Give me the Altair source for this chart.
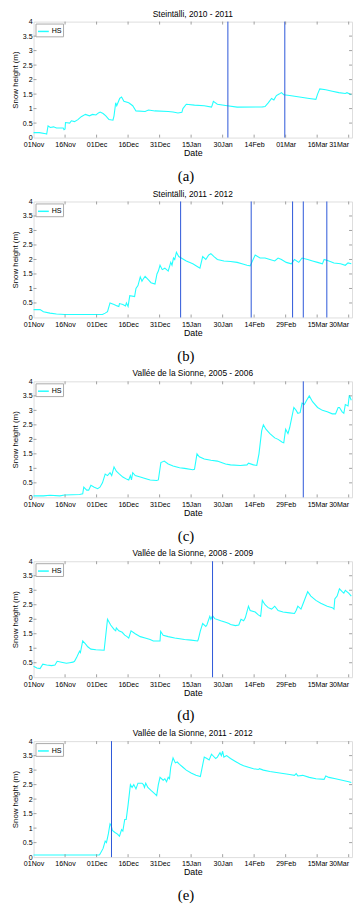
import altair as alt
import pandas as pd

FONT = "Liberation Sans"

TICK_DAYS = [0, 15, 30, 45, 60, 75, 90, 105, 120, 135, 150]
LABELS_A = ["01Nov", "16Nov", "01Dec", "16Dec", "31Dec", "15Jan", "30Jan", "14Feb", "01Mar", "16Mar", "31Mar"]
LABELS_B = ["01Nov", "16Nov", "01Dec", "16Dec", "31Dec", "15Jan", "30Jan", "14Feb", "29Feb", "15Mar", "30Mar"]
Y_TICKS = [0.5, 1, 1.5, 2, 2.5, 3, 3.5]
Y_LABELS = [0, 0.5, 1, 1.5, 2, 2.5, 3, 3.5, 4]

TITLES = ["Steintälli, 2010 - 2011", "Steintälli, 2011 - 2012", "Vallée de la Sionne, 2005 - 2006",
          "Vallée de la Sionne, 2008 - 2009", "Vallée de la Sionne, 2011 - 2012"]
CAPTIONS = ["(a)", "(b)", "(c)", "(d)", "(e)"]

A_DAYS = [0, 2.8, 5.8, 6.25, 6.6, 6.9, 8, 9.5, 10.9, 14.1, 14.5, 15, 15.2, 17.2, 18, 19.5, 21.1, 22.7, 24.7, 26.6,
          28.1, 29.7, 30.9, 31.7, 33.1, 34.4, 35.9, 37.8, 38.3, 39.1, 39.6, 41, 41.9, 43, 45.3, 47.2, 48.75, 53.1,
          54.7, 57.8, 64.1, 66.4, 68.75, 70.6, 71.1, 72.7, 76.6, 81.25, 84.7, 85.2, 85.6, 87.5, 92.2, 96.9, 109,
          110.2, 111.7, 113.3, 114.4, 115.6, 116.9, 118, 119.1, 121.9, 126.6, 131.25, 134.4, 135.2, 136.25, 139.1,
          142.2, 145.3, 148.4, 149.2, 151.25]
A_HS = [0.17, 0.17, 0.13, 0.12, 0.28, 0.4, 0.35, 0.37, 0.33, 0.33, 0.27, 0.3, 0.52, 0.5, 0.58, 0.55, 0.62, 0.72, 0.8,
        0.75, 0.8, 0.78, 0.85, 0.88, 0.83, 0.75, 0.62, 0.6, 0.75, 1.2, 1.1, 1.35, 1.4, 1.25, 1.2, 1.1, 0.92, 0.9,
        0.95, 0.92, 0.9, 0.88, 0.85, 0.87, 1.0, 1.15, 1.12, 1.1, 1.05, 1.15, 1.25, 1.15, 1.1, 1.05, 1.06, 1.07,
        1.2, 1.35, 1.3, 1.45, 1.5, 1.55, 1.48, 1.45, 1.4, 1.35, 1.32, 1.5, 1.68, 1.65, 1.6, 1.55, 1.52, 1.55, 1.48]
A_EVENTS = [92.5, 119.6]

B_DAYS = [0, 3.1, 4.7, 7.8, 10.9, 14.8, 32.8, 34.1, 35.2, 36.4, 38.3, 39.8, 40.6, 40.9, 42.5, 43.75, 44.2, 45, 45.8,
          48.1, 48.75, 49.7, 50.8, 51.6, 52, 53.1, 54.7, 55.9, 57.8, 58.75, 59.4, 60.2, 61.25, 62.5, 64.1, 65.3,
          65.9, 66.6, 67.2, 68, 69.1, 70.3, 72.7, 75.8, 78.1, 79.2, 80.5, 82, 83.3, 84.4, 85.9, 87.5, 90.6, 93.75,
          96.9, 99.2, 101.6, 103.1, 105.5, 107.8, 110.2, 112.5, 114.8, 116.4, 118, 120.3, 122.7, 124.2, 126.25,
          127.8, 130.5, 132.8, 135.2, 137.5, 138.3, 140.6, 143, 146.1, 148.4, 149.7, 151.25]
B_HS = [0.27, 0.27, 0.2, 0.15, 0.12, 0.1, 0.1, 0.15, 0.2, 0.5, 0.45, 0.4, 0.38, 0.48, 0.45, 0.4, 0.5, 0.38, 0.75,
        0.72, 1.0, 1.1, 1.4, 1.25, 1.3, 1.42, 1.3, 1.2, 1.15, 1.5, 1.6, 1.8, 1.65, 1.7, 1.6, 1.9, 1.8, 2.05, 2.0,
        2.25, 2.1, 2.05, 1.95, 1.85, 1.75, 1.7, 2.1, 2.0, 2.15, 2.2, 2.1, 2.0, 1.95, 1.93, 1.9, 1.85, 1.8, 1.78,
        2.15, 2.05, 2.05, 2.0, 1.95, 2.05, 2.0, 1.9, 1.85, 2.0, 1.9, 2.05, 2.0, 1.95, 1.9, 1.85, 2.0, 1.95, 1.88,
        1.85, 1.8, 1.88, 1.85]
B_EVENTS = [70.0, 103.6, 123.3, 128.4, 139.6]

C_DAYS = [0, 4.7, 7.8, 12.5, 14.8, 21.9, 23.4, 23.9, 25.3, 26.25, 27.3, 28.9, 30.5, 31.6, 32.8, 34.1, 35.2, 36.4,
          37.2, 38.3, 39.4, 40.9, 42.5, 44.5, 45.3, 46.1, 46.6, 47.2, 48.4, 50.8, 53.1, 55.5, 58.6, 59.4, 60.6,
          62.2, 64.1, 66.4, 69.5, 71.9, 75.8, 76.6, 77.8, 78.9, 81.25, 84.4, 87.5, 88.75, 91.4, 93.75, 98.4, 101.6,
          102.3, 104.7, 106.25, 107.3, 108.6, 109.4, 110.6, 112.5, 114.8, 116.4, 118.4, 119.1, 120, 121.1, 121.9,
          123.9, 125, 125.8, 126.9, 127.8, 128.9, 130, 131.25, 132.8, 135.2, 137.5, 139.8, 142.2, 143.75, 145,
          145.6, 146.9, 147.7, 148.4, 149.7, 150.3, 151.25]
C_HS = [0.05, 0.05, 0.07, 0.05, 0.08, 0.1, 0.12, 0.35, 0.25, 0.25, 0.42, 0.35, 0.3, 0.35, 0.5, 0.8, 0.75, 0.85, 0.75,
        1.05, 0.9, 0.8, 0.7, 0.62, 0.6, 0.75, 0.6, 0.85, 0.75, 0.7, 0.65, 0.6, 0.58, 0.6, 1.2, 1.25, 1.15, 1.08,
        1.02, 1.0, 0.95, 0.97, 1.5, 1.4, 1.32, 1.28, 1.25, 1.22, 1.15, 1.12, 1.1, 1.12, 1.18, 1.12, 1.1, 1.5, 2.3,
        2.5, 2.35, 2.2, 2.05, 2.0, 1.9, 1.88, 2.35, 2.2, 2.4, 3.1, 3.0, 2.9, 2.92, 3.25, 3.2, 3.35, 3.5, 3.3, 3.1,
        3.0, 2.95, 2.88, 2.88, 3.1, 3.1, 2.95, 2.9, 3.2, 3.15, 3.52, 3.35]
C_EVENTS = [128.4]

D_DAYS = [0, 1.56, 3.1, 4.4, 6.25, 8.6, 10.2, 11.25, 13.3, 15.6, 17.2, 18.75, 19.5, 20.6, 21.9, 22.3, 23.4, 24.7,
          25.8, 27.3, 29.7, 33.6, 35.2, 36.7, 38.3, 39.1, 39.4, 40.6, 42.2, 43.4, 44.5, 45.3, 46.4, 48.4, 50.8,
          53.1, 55.5, 57, 60.2, 60.5, 61.7, 64.1, 67.2, 71.9, 75, 78.1, 78.4, 79.4, 80.5, 82, 82.5, 83.9, 84.4,
          85.2, 86.25, 89.1, 91.4, 93, 93.75, 96.1, 97.7, 98.75, 100, 100.8, 102.3, 103.1, 105.5, 107, 108.1,
          108.9, 110.2, 111.7, 113.3, 114.1, 114.8, 116.4, 118.75, 121.9, 124.2, 125, 125.8, 127.3, 128.1, 129.7,
          130.5, 132, 134.4, 136.7, 139.8, 142.2, 143, 143.4, 144.5, 145.6, 146.9, 147.7, 148.4, 150, 151.25]
D_HS = [0.38, 0.32, 0.3, 0.45, 0.42, 0.4, 0.42, 0.55, 0.52, 0.48, 0.5, 0.52, 0.55, 0.7, 0.9, 0.85, 1.25, 1.15, 1.05,
        0.97, 0.95, 0.93, 2.0, 1.8, 1.65, 1.6, 1.7, 1.6, 1.55, 1.45, 1.4, 1.35, 1.6, 1.5, 1.4, 1.35, 1.3, 1.25,
        1.25, 1.58, 1.45, 1.4, 1.35, 1.3, 1.28, 1.25, 1.3, 1.6, 1.85, 1.75, 1.8, 2.1, 2.0, 2.12, 2.02, 1.95, 1.9,
        1.85, 1.82, 1.78, 1.8, 2.0, 1.95, 2.05, 2.45, 2.3, 2.25, 2.15, 2.1, 2.65, 2.5, 2.4, 2.35, 2.4, 2.45, 2.3,
        2.25, 2.22, 2.2, 2.3, 2.45, 2.35, 2.5, 2.8, 2.95, 2.8, 2.65, 2.55, 2.45, 2.4, 2.35, 2.7, 2.8, 3.05, 2.95,
        2.9, 3.0, 2.9, 2.8]
D_EVENTS = [85.2]

E_DAYS = [0, 31.25, 31.6, 33.1, 34.1, 34.7, 35.6, 36.4, 36.9, 37.5, 38.75, 39.8, 40.9, 41.9, 42.5, 43.4, 44.1, 45,
          46.1, 46.9, 47.7, 48.75, 49.7, 51.6, 52.3, 52.8, 53.4, 54.4, 55.9, 57.5, 58.6, 59.4, 60.2, 61.7, 62.5,
          63.3, 64.1, 64.7, 65.3, 66.4, 67.5, 68.4, 69.5, 71.1, 72.7, 75, 77.3, 79.4, 81.25, 82.5, 83.6, 84.7, 86.7,
          87.5, 88.75, 89.4, 90, 90.6, 91.9, 93.75, 96.1, 98.4, 100, 102.3, 104.7, 107, 107.5, 109.4, 112.5, 117.2,
          121.9, 124.2, 125, 125.8, 128.1, 131.25, 134.4, 138.3, 139.1, 140.6, 143.75, 146.9, 150, 151.25]
E_HS = [0.07, 0.07, 0.1, 0.3, 0.55, 0.5, 0.8, 1.15, 1.1, 0.92, 0.85, 0.8, 0.72, 0.95, 0.9, 1.3, 1.3, 1.8, 2.5, 2.4,
        2.5, 2.35, 2.55, 2.55, 2.5, 2.4, 2.55, 2.4, 2.3, 2.2, 2.12, 2.5, 2.75, 2.65, 2.7, 2.6, 2.75, 2.7, 3.1, 3.42,
        3.25, 3.28, 3.2, 3.1, 3.0, 2.9, 2.82, 2.78, 3.45, 3.4, 3.35, 3.55, 3.4, 3.45, 3.6, 3.5, 3.65, 3.45, 3.5,
        3.4, 3.3, 3.2, 3.15, 3.1, 3.05, 3.02, 3.05, 3.0, 2.95, 2.9, 2.85, 2.82, 2.88, 2.8, 2.82, 2.75, 2.7, 2.68,
        2.8, 2.75, 2.7, 2.65, 2.6, 2.57]
E_EVENTS = [37.1]

W, H = 324, 118
X_MAX = 151.6
FRAME = "#9a9a9a"


def panel(title, days, hs, events, labels, caption):
    xscale = alt.Scale(domain=[0, X_MAX], nice=False, zero=False)
    yscale = alt.Scale(domain=[0, 4], nice=False)
    label_expr = "[" + ",".join("'%s'" % l for l in labels) + "][round(datum.value / 15)]"
    xaxis = alt.Axis(values=TICK_DAYS, labelExpr=label_expr, title="Date", grid=False, ticks=False,
                     domain=False, labelFontSize=7.2, titleFontSize=9, labelPadding=3, titlePadding=1,
                     titleFontWeight="normal", labelColor="black", titleColor="black", labelFont=FONT,
                     titleFont=FONT, labelOverlap=False, labelFlush=False,
                     labelAlign={"condition": {"test": "datum.value >= 150", "value": "right"},
                                 "value": "center"})
    yaxis = alt.Axis(values=Y_LABELS, format="~g", title="Snow height (m)", grid=False, ticks=False,
                     domain=False, labelFontSize=7.2, titleFontSize=8, labelPadding=1.5, titlePadding=2.5,
                     titleFontWeight="normal", labelColor="black", titleColor="black", labelFont=FONT,
                     titleFont=FONT, labelOverlap=False)

    df = pd.DataFrame({"day": days, "hs": hs, "series": ["HS"] * len(days)})
    line = alt.Chart(df).mark_line(strokeWidth=1.1, interpolate="linear").encode(
        x=alt.X("day:Q", scale=xscale, axis=xaxis),
        y=alt.Y("hs:Q", scale=yscale, axis=yaxis),
        color=alt.Color("series:N", scale=alt.Scale(domain=["HS"], range=["#22ffff"]),
                        legend=alt.Legend(title=None, orient="top-left", offset=2, padding=1.5,
                                          strokeColor="#aaaaaa", fillColor="white", symbolType="stroke",
                                          symbolSize=121, symbolStrokeWidth=1.5, labelFontSize=7.2,
                                          labelFont=FONT, labelOffset=2, labelColor="black", rowPadding=0)),
    )
    ev = alt.Chart(pd.DataFrame({"day": events})).mark_rule(color="#2a55d8", strokeWidth=1).encode(
        x=alt.X("day:Q", scale=xscale, axis=xaxis)
    )
    ydf = pd.DataFrame({"hs": Y_TICKS})
    yt_left = alt.Chart(ydf).mark_rule(color="#888888", strokeWidth=0.8).encode(
        y=alt.Y("hs:Q", scale=yscale, axis=yaxis), x=alt.value(0), x2=alt.value(3))
    yt_right = alt.Chart(ydf).mark_rule(color="#888888", strokeWidth=0.8).encode(
        y=alt.Y("hs:Q", scale=yscale, axis=yaxis), x=alt.value(W), x2=alt.value(W - 3))
    xdf = pd.DataFrame({"day": TICK_DAYS[1:]})
    xt_bot = alt.Chart(xdf).mark_rule(color="#888888", strokeWidth=0.8).encode(
        x=alt.X("day:Q", scale=xscale, axis=xaxis), y=alt.value(H), y2=alt.value(H - 3))
    xt_top = alt.Chart(xdf).mark_rule(color="#888888", strokeWidth=0.8).encode(
        x=alt.X("day:Q", scale=xscale, axis=xaxis), y=alt.value(0), y2=alt.value(3))
    cap = alt.Chart(pd.DataFrame({"c": [caption]})).mark_text(
        font="Liberation Serif", fontSize=15, baseline="middle", align="center", color="black"
    ).encode(text="c:N", x=alt.value(155), y=alt.value(H + 39))

    return alt.layer(line, ev, yt_left, yt_right, xt_bot, xt_top, cap).properties(
        width=W, height=H,
        title=alt.TitleParams(title, fontSize=8.5, font=FONT, fontWeight="normal", offset=-0.5,
                              anchor="middle", color="black"),
    )


panels = [
    panel(TITLES[0], A_DAYS, A_HS, A_EVENTS, LABELS_A, CAPTIONS[0]),
    panel(TITLES[1], B_DAYS, B_HS, B_EVENTS, LABELS_B, CAPTIONS[1]),
    panel(TITLES[2], C_DAYS, C_HS, C_EVENTS, LABELS_B, CAPTIONS[2]),
    panel(TITLES[3], D_DAYS, D_HS, D_EVENTS, LABELS_B, CAPTIONS[3]),
    panel(TITLES[4], E_DAYS, E_HS, E_EVENTS, LABELS_B, CAPTIONS[4]),
]

chart = alt.vconcat(*panels, spacing=4).resolve_scale(color="independent").resolve_legend(
    color="independent"
).properties(
    padding={"left": 3, "top": -7, "right": 0, "bottom": 0}
).configure_view(stroke=FRAME, strokeWidth=1).configure(background="white")

chart.save("out.html", embed_options={"renderer": "svg", "actions": False})
